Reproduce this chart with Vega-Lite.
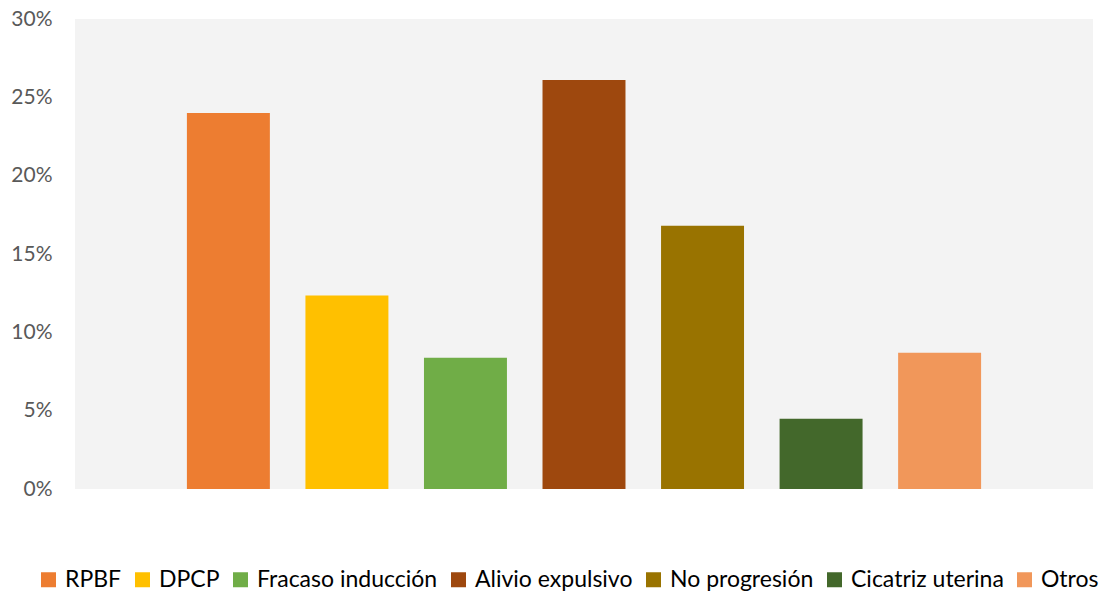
{
  "$schema": "https://vega.github.io/schema/vega-lite/v6.json",
  "width": 1018,
  "height": 470,
  "autosize": {"type": "none"},
  "padding": {"left": 75, "top": 19, "right": 9, "bottom": 108},
  "background": "white",
  "config": {"view": {"fill": "#f3f3f3", "stroke": null}, "font": "Lato"},
  "data": {"values": [
    {"causa": "RPBF", "pct": 0.240},
    {"causa": "DPCP", "pct": 0.1235},
    {"causa": "Fracaso inducción", "pct": 0.0838},
    {"causa": "Alivio expulsivo", "pct": 0.261},
    {"causa": "No progresión", "pct": 0.168},
    {"causa": "Cicatriz uterina", "pct": 0.0448},
    {"causa": "Otros", "pct": 0.087}
  ]},
  "mark": {"type": "bar"},
  "encoding": {
    "x": {"field": "causa", "type": "nominal", "sort": null, "axis": null,
      "scale": {"paddingInner": 0.3, "paddingOuter": 0.944}},
    "y": {"field": "pct", "type": "quantitative",
      "scale": {"domain": [0, 0.3], "nice": false},
      "axis": {"format": "%", "values": [0, 0.05, 0.1, 0.15, 0.2, 0.25, 0.3], "grid": false, "ticks": false, "tickSize": 0, "domain": false,
        "labelFontSize": 21, "labelColor": "#595959", "labelPadding": 23, "title": null}},
    "color": {"field": "causa", "type": "nominal", "sort": null,
      "scale": {"domain": ["RPBF", "DPCP", "Fracaso inducción", "Alivio expulsivo", "No progresión", "Cicatriz uterina", "Otros"],
        "range": ["#ED7D31", "#FFC000", "#70AD47", "#9E480E", "#997300", "#43682B", "#F1975A"]},
      "legend": {"orient": "none", "legendX": -38, "legendY": 549, "direction": "horizontal", "columns": 7, "title": null,
        "symbolType": "square", "symbolSize": 225, "symbolStrokeWidth": 0, "symbolOpacity": 1,
        "labelFontSize": 23, "labelLimit": 400, "labelColor": "#000000", "labelOffset": 5, "columnPadding": 9, "padding": 0}}
  }
}
